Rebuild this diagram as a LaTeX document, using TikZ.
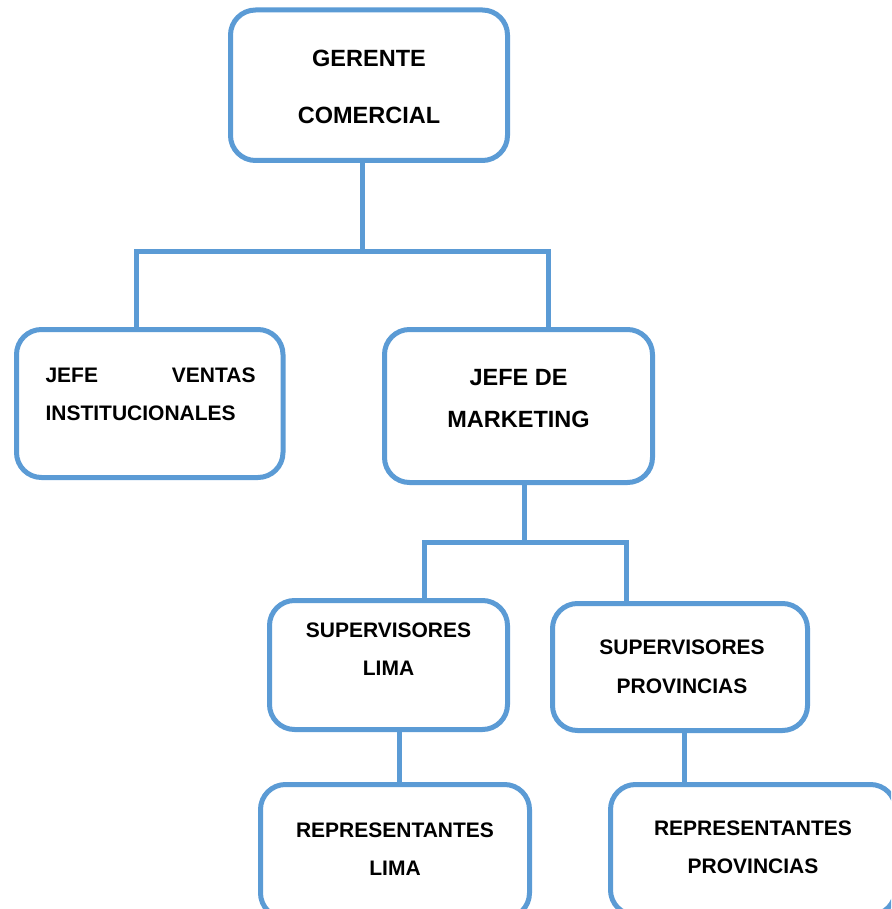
\documentclass[tikz,border=0pt]{standalone}
\usepackage{fontspec}
\setmainfont{Liberation Sans}
\definecolor{orgblue}{HTML}{5B9BD5}
\tikzset{
  box/.style={draw=orgblue, line width=5pt, rounded corners=25pt, fill=white,
    inner sep=0pt, outer sep=0pt},
  link/.style={draw=orgblue, line width=5pt},
  bigtxt/.style={align=center, font=\bfseries\fontsize{23.5}{57}\selectfont},
  smalltxt/.style={align=center, font=\bfseries\fontsize{21}{38}\selectfont}
}
\begin{document}
\begin{tikzpicture}[x=1pt, y=-1pt]
        \useasboundingbox (0,0) rectangle (891,909);
        \clip (0,0) rectangle (891,909);

        % Boxes
        \node[box, minimum width=277pt, minimum height=150.5pt] (gerente) at (369,85.25) {};
        \node[box, minimum width=266.5pt, minimum height=148pt] (jefev) at (149.75,403.5) {};
        \node[box, minimum width=268pt, minimum height=153pt] (jefem) at (518.5,406) {};
        \node[box, minimum width=238pt, minimum height=129pt] (suplima) at (388.5,665) {};
        \node[box, minimum width=255pt, minimum height=127pt] (supprov) at (680,667) {};
        \node[box, minimum width=269pt, minimum height=133.5pt] (replima) at (395,851.25) {};
        \node[box, minimum width=285pt, minimum height=130.5pt] (repprov) at (753,849.75) {};

        % Text
        \node[bigtxt] (gerente-t) at (369,86.5) {GERENTE\\COMERCIAL};
        \node[smalltxt, align=left, anchor=west] (jefev-t) at (42,394)
            {\makebox[210pt][s]{JEFE\hfill VENTAS}\\INSTITUCIONALES};
        \node[bigtxt, font=\bfseries\fontsize{23.5}{42}\selectfont] (jefem-t) at (518.5,399) {JEFE DE\\MARKETING};
        \node[smalltxt] (suplima-t) at (388.5,649) {SUPERVISORES\\LIMA};
        \node[smalltxt, font=\bfseries\fontsize{21}{39}\selectfont] (supprov-t) at (682,666.5) {SUPERVISORES\\PROVINCIAS};
        \node[smalltxt] (replima-t) at (395,849) {REPRESENTANTES\\LIMA};
        \node[smalltxt] (repprov-t) at (753,847) {REPRESENTANTES\\PROVINCIAS};

        % Lines
        \coordinate (g1) at (362,251);
        \coordinate (g2) at (136,251);
        \coordinate (g3) at (548,251);
        \draw[link] (g1 |- gerente.south) -- (g1);
        \draw[link] (g2 |- jefev.north) -- (g2) -- (g3) -- (g3 |- jefem.north);

        \coordinate (m1) at (524,542);
        \coordinate (m2) at (424,542);
        \coordinate (m3) at (626.5,542);
        \draw[link] (m1 |- jefem.south) -- (m1);
        \draw[link] (m2 |- suplima.north) -- (m2) -- (m3) -- (m3 |- supprov.north);

        \coordinate (s1) at (399,760);
        \coordinate (s2) at (684,760);
        \draw[link] (s1 |- suplima.south) -- (s1 |- replima.north);
        \draw[link] (s2 |- supprov.south) -- (s2 |- repprov.north);
    \end{tikzpicture}
\end{document}
